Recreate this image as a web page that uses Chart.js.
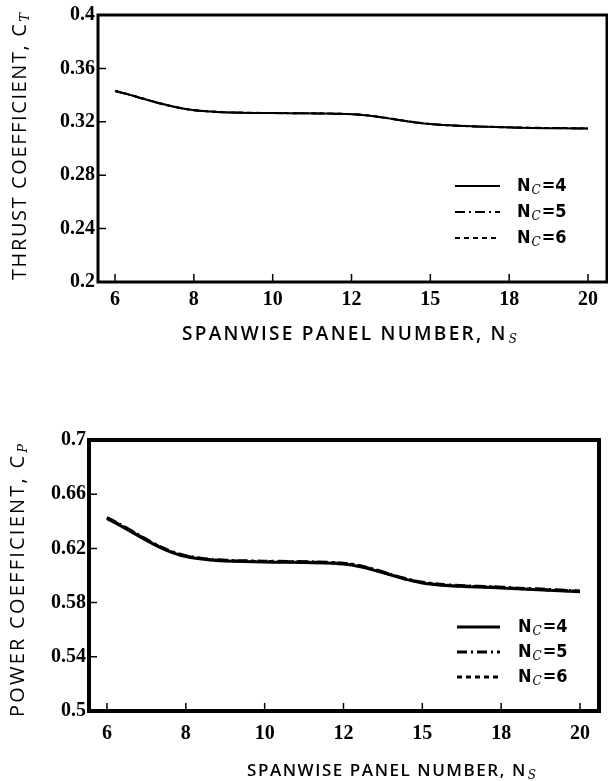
<!DOCTYPE html>
<html>
<head>
<meta charset="utf-8">
<script src="https://cdn.jsdelivr.net/npm/chart.js@4.4.0/dist/chart.umd.min.js"></script>
<style>
    html, body { margin: 0; padding: 0; background: #fff; }
    #wrap { position: relative; width: 608px; height: 781px; }
    .box { position: absolute; left: 0; width: 608px; }
</style>
</head>
<body>
<div id="wrap">
    <div class="box" style="top:0;height:390px"><canvas id="thrustChart"></canvas></div>
    <div class="box" style="top:390px;height:391px"><canvas id="powerChart"></canvas></div>
</div>
<script>
// spanwise panel numbers (evenly spaced on the axis)
const categories = ['6', '8', '10', '12', '15', '18', '20'];

// thrust coefficient, one series per chordwise panel count
const thrustNc4 = [0.343, 0.3287, 0.3265, 0.3257, 0.3183, 0.3158, 0.315];
const thrustNc5 = [0.343, 0.3287, 0.3265, 0.3257, 0.3183, 0.3158, 0.315];
const thrustNc6 = [0.3432, 0.3288, 0.3266, 0.3258, 0.3184, 0.3159, 0.3151];

// power coefficient
const powerNc4 = [0.642, 0.614, 0.610, 0.6085, 0.5945, 0.5908, 0.588];
const powerNc5 = [0.6428, 0.6146, 0.6106, 0.6091, 0.5951, 0.5914, 0.5886];
const powerNc6 = [0.6424, 0.6143, 0.6103, 0.6088, 0.5948, 0.5911, 0.5883];

// tick values and labels
const thrustTicks = [0.2, 0.24, 0.28, 0.32, 0.36, 0.4];
const thrustTickLabels = ['0.2', '0.24', '0.28', '0.32', '0.36', '0.4'];
const powerTicks = [0.5, 0.54, 0.58, 0.62, 0.66, 0.7];
const powerTickLabels = ['0.5', '0.54', '0.58', '0.62', '0.66', '0.7'];

const legendLabels = ['4', '5', '6'];
const dashes = [[], [10, 4, 2, 4], [5, 4]];

const tickFont = { family: '"Liberation Serif", "DejaVu Serif", serif', size: 20, weight: 'bold' };

// draws "main" + italic subscript, fitted to a target width
function drawSubText(ctx, main, sub, x, y, width, font, subFont, align) {
    ctx.font = font;
    ctx.letterSpacing = '0px';
    const n = main.length;
    const w0 = ctx.measureText(main).width;
    ctx.font = subFont;
    const ws = ctx.measureText(sub).width;
    let spacing = 0;
    if (width) spacing = Math.max(0, (width - w0 - ws - 2) / n);
    const total = w0 + spacing * n + ws + 2;
    let start = align === 'center' ? x - total / 2 : x;
    ctx.font = font;
    ctx.letterSpacing = spacing + 'px';
    ctx.textBaseline = 'alphabetic';
    ctx.textAlign = 'left';
    ctx.fillText(main, start, y);
    ctx.letterSpacing = '0px';
    ctx.font = subFont;
    ctx.fillText(sub, start + w0 + spacing * n + 1, y + 3);
}

const framePlugin = {
    id: 'frame',
    afterDraw(chart, args, o) {
        const ctx = chart.ctx;
        const a = chart.chartArea;
        const xs = chart.scales.x;
        const ys = chart.scales.y;
        ctx.save();
        ctx.strokeStyle = '#000';
        ctx.fillStyle = '#000';

        // box around plot
        ctx.lineWidth = o.frameWidth;
        ctx.strokeRect(a.left, a.top, a.right - a.left, a.bottom - a.top);

        // inward ticks
        ctx.lineWidth = 1.5;
        ctx.beginPath();
        xs.ticks.forEach(t => {
            const px = xs.getPixelForValue(t.value);
            ctx.moveTo(px, a.bottom);
            ctx.lineTo(px, a.bottom - 8);
        });
        ys.ticks.forEach(t => {
            const py = ys.getPixelForValue(t.value);
            ctx.moveTo(a.left, py);
            ctx.lineTo(a.left + 8, py);
        });
        ctx.stroke();

        // legend
        chart.data.datasets.forEach((ds, i) => {
            const ly = o.legend.y + i * o.legend.gap;
            ctx.lineWidth = ds.borderWidth;
            ctx.setLineDash(ds.borderDash || []);
            ctx.beginPath();
            ctx.moveTo(o.legend.x1, ly);
            ctx.lineTo(o.legend.x2, ly);
            ctx.stroke();
            ctx.setLineDash([]);
            const tx = o.legend.tx;
            ctx.font = 'bold 18px "DejaVu Sans Condensed", "DejaVu Sans", sans-serif';
            ctx.textBaseline = 'middle';
            ctx.textAlign = 'left';
            ctx.fillText('N', tx, ly);
            const wn = ctx.measureText('N').width;
            ctx.font = 'italic 12px "DejaVu Serif", serif';
            ctx.fillText('C', tx + wn + 1, ly + 5);
            const wc = ctx.measureText('C').width;
            ctx.font = 'bold 18px "DejaVu Sans Condensed", "DejaVu Sans", sans-serif';
            ctx.fillText('=' + legendLabels[i], tx + wn + wc + 2, ly);
        });

        // x axis title
        drawSubText(ctx, o.xTitle.text, o.xTitle.sub, o.xTitle.x, o.xTitle.y, o.xTitle.width,
            o.xTitle.font, 'italic 12px "DejaVu Serif", serif', 'center');

        // y axis title (rotated)
        ctx.save();
        ctx.translate(o.yTitle.x, o.yTitle.y);
        ctx.rotate(-Math.PI / 2);
        drawSubText(ctx, o.yTitle.text, o.yTitle.sub, 0, 0, o.yTitle.width,
            o.yTitle.font, 'italic 13px "DejaVu Serif", serif', 'center');
        ctx.restore();

        ctx.restore();
    }
};

function makeChart(id, series, yTicks, yLabels, cfg) {
    const ctx = document.getElementById(id).getContext('2d');
    return new Chart(ctx, {
        type: 'line',
        data: {
            datasets: series.map((vals, i) => ({
                label: 'NC=' + legendLabels[i],
                data: vals.map((v, k) => ({ x: k, y: v })),
                borderColor: '#000',
                borderWidth: cfg.lineWidth,
                borderDash: dashes[i],
                pointRadius: 0,
                fill: false,
                cubicInterpolationMode: 'monotone'
            }))
        },
        options: {
            responsive: true,
            maintainAspectRatio: false,
            animation: false,
            events: [],
            layout: { padding: cfg.padding },
            scales: {
                x: {
                    type: 'linear',
                    min: cfg.xMin,
                    max: cfg.xMax,
                    grid: { display: false, drawTicks: false },
                    border: { display: false },
                    afterBuildTicks: scale => {
                        scale.ticks = categories.map((c, k) => ({ value: k }));
                    },
                    afterFit: scale => { scale.height = cfg.xHeight; },
                    ticks: {
                        padding: cfg.xPad,
                        color: '#000',
                        font: tickFont,
                        maxRotation: 0,
                        callback: v => categories[v]
                    }
                },
                y: {
                    min: yTicks[0],
                    max: yTicks[yTicks.length - 1],
                    grid: { display: false, drawTicks: false },
                    border: { display: false },
                    afterBuildTicks: scale => {
                        scale.ticks = yTicks.map(v => ({ value: v }));
                    },
                    afterFit: scale => { scale.width = cfg.yWidth; },
                    ticks: {
                        padding: 3,
                        color: '#000',
                        font: tickFont,
                        callback: (v, k) => yLabels[k]
                    }
                }
            },
            plugins: {
                legend: { display: false },
                tooltip: { enabled: false },
                frame: cfg.frame
            }
        },
        plugins: [framePlugin]
    });
}

document.addEventListener('DOMContentLoaded', () => {
    makeChart('thrustChart', [thrustNc4, thrustNc5, thrustNc6], thrustTicks, thrustTickLabels, {
        lineWidth: 2,
        padding: { top: 13, right: 1, left: 0, bottom: 0 },
        xMin: -0.216, xMax: 6.241,
        xHeight: 108, yWidth: 98, xPad: 6,
        frame: {
            frameWidth: 3,
            legend: { x1: 455, x2: 500, tx: 517, y: 186, gap: 26 },
            xTitle: { text: 'SPANWISE PANEL NUMBER, N', sub: 'S', x: 350, y: 340, width: 336,
                font: '600 19px "Open Sans", "DejaVu Sans", sans-serif' },
            yTitle: { text: 'THRUST COEFFICIENT, C', sub: 'T', x: 26, y: 146, width: 268,
                font: '500 20px "Open Sans", "DejaVu Sans", sans-serif' }
        }
    });

    makeChart('powerChart', [powerNc4, powerNc5, powerNc6], powerTicks, powerTickLabels, {
        lineWidth: 3,
        padding: { top: 50, right: 9, left: 0, bottom: 0 },
        xMin: -0.228, xMax: 6.241,
        xHeight: 70, yWidth: 89, xPad: 11,
        frame: {
            frameWidth: 4,
            legend: { x1: 457, x2: 500, tx: 518, y: 237, gap: 25 },
            xTitle: { text: 'SPANWISE PANEL NUMBER, N', sub: 'S', x: 392, y: 386, width: 290,
                font: '600 17px "Open Sans", "DejaVu Sans", sans-serif' },
            yTitle: { text: 'POWER COEFFICIENT, C', sub: 'P', x: 24, y: 190, width: 274,
                font: '500 20px "Open Sans", "DejaVu Sans", sans-serif' }
        }
    });
});
</script>
</body>
</html>
